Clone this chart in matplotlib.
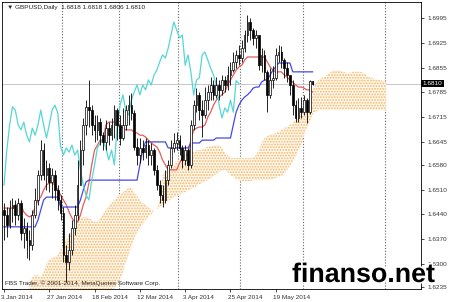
import numpy as np
import matplotlib
matplotlib.use("Agg")
import matplotlib.pyplot as plt
import matplotlib.patheffects as pe
import matplotlib.transforms as mtransforms

# %% data (GBPUSD daily, bar 0 = 3 Jan 2014)
first_open = 1.6453

close_ = [
    1.6438, 1.6410, 1.6458, 1.6467, 1.6438, 1.6472, 1.6388, 1.6402, 1.6368, 1.6354,
    1.6438, 1.6481, 1.6551, 1.6622, 1.6551, 1.6571, 1.6532, 1.6551, 1.6509, 1.6481,
    1.6444, 1.6325, 1.6306, 1.6340, 1.6402, 1.6438, 1.6523, 1.6622, 1.6693, 1.6744,
    1.6735, 1.6693, 1.6679, 1.6701, 1.6664, 1.6645, 1.6684, 1.6664, 1.6693, 1.6735,
    1.6693, 1.6656, 1.6693, 1.6735, 1.6749, 1.6727, 1.6631, 1.6608, 1.6628, 1.6616,
    1.6636, 1.6608, 1.6622, 1.6566, 1.6523, 1.6495, 1.6481, 1.6537, 1.6580, 1.6628,
    1.6642, 1.6650, 1.6628, 1.6594, 1.6622, 1.6580, 1.6693, 1.6749, 1.6778, 1.6735,
    1.6721, 1.6763, 1.6786, 1.6806, 1.6778, 1.6806, 1.6792, 1.6820, 1.6806, 1.6834,
    1.6848, 1.6871, 1.6891, 1.6882, 1.6910, 1.6947, 1.6984, 1.6961, 1.6939, 1.6947,
    1.6862, 1.6891, 1.6843, 1.6778, 1.6820, 1.6826, 1.6891, 1.6899, 1.6876, 1.6854,
    1.6834, 1.6806, 1.6749, 1.6713, 1.6741, 1.6729, 1.6763, 1.6729, 1.6818, 1.6810,
]
high_ = [
    1.6472, 1.6461, 1.6481, 1.6486, 1.6481, 1.6486, 1.6481, 1.6430, 1.6419, 1.6396,
    1.6453, 1.6515, 1.6566, 1.6650, 1.6642, 1.6594, 1.6585, 1.6571, 1.6566, 1.6523,
    1.6495, 1.6461, 1.6354, 1.6388, 1.6424, 1.6467, 1.6594, 1.6650, 1.6713, 1.6763,
    1.6820, 1.6749, 1.6721, 1.6721, 1.6713, 1.6673, 1.6707, 1.6701, 1.6713, 1.6749,
    1.6741, 1.6721, 1.6741, 1.6749, 1.6778, 1.6783, 1.6735, 1.6656, 1.6656, 1.6650,
    1.6656, 1.6650, 1.6642, 1.6628, 1.6580, 1.6537, 1.6523, 1.6566, 1.6594, 1.6650,
    1.6670, 1.6673, 1.6664, 1.6636, 1.6636, 1.6628, 1.6707, 1.6763, 1.6797, 1.6786,
    1.6763, 1.6800, 1.6806, 1.6828, 1.6820, 1.6828, 1.6820, 1.6834, 1.6831, 1.6859,
    1.6871, 1.6899, 1.6905, 1.6919, 1.6933, 1.6961, 1.7004, 1.6995, 1.6967, 1.6961,
    1.6947, 1.6910, 1.6905, 1.6848, 1.6854, 1.6859, 1.6910, 1.6919, 1.6916, 1.6882,
    1.6871, 1.6834, 1.6820, 1.6763, 1.6769, 1.6772, 1.6778, 1.6769, 1.6820, 1.6818,
]
low_ = [
    1.6368, 1.6376, 1.6402, 1.6419, 1.6410, 1.6424, 1.6368, 1.6345, 1.6317, 1.6311,
    1.6340, 1.6430, 1.6467, 1.6537, 1.6537, 1.6509, 1.6503, 1.6486, 1.6481, 1.6453,
    1.6424, 1.6306, 1.6249, 1.6283, 1.6325, 1.6382, 1.6424, 1.6523, 1.6580, 1.6664,
    1.6687, 1.6664, 1.6645, 1.6650, 1.6636, 1.6622, 1.6622, 1.6636, 1.6650, 1.6656,
    1.6650, 1.6636, 1.6650, 1.6679, 1.6693, 1.6707, 1.6622, 1.6580, 1.6585, 1.6594,
    1.6599, 1.6580, 1.6580, 1.6551, 1.6509, 1.6472, 1.6461, 1.6472, 1.6523, 1.6571,
    1.6616, 1.6622, 1.6608, 1.6571, 1.6580, 1.6566, 1.6571, 1.6679, 1.6729, 1.6707,
    1.6659, 1.6713, 1.6735, 1.6763, 1.6763, 1.6769, 1.6763, 1.6778, 1.6786, 1.6792,
    1.6806, 1.6843, 1.6854, 1.6862, 1.6871, 1.6899, 1.6927, 1.6933, 1.6919, 1.6910,
    1.6848, 1.6843, 1.6820, 1.6729, 1.6769, 1.6797, 1.6820, 1.6871, 1.6854, 1.6826,
    1.6814, 1.6778, 1.6721, 1.6701, 1.6701, 1.6713, 1.6721, 1.6698, 1.6724, 1.6806,
]

# Ichimoku lines as drawn on the chart
tenkan = [
    1.6458, 1.6458, 1.6458, 1.6458, 1.6467, 1.6467, 1.6467, 1.6447, 1.6438, 1.6433,
    1.6438, 1.6461, 1.6481, 1.6489, 1.6509, 1.6523, 1.6529, 1.6529, 1.6523, 1.6509,
    1.6495, 1.6481, 1.6467, 1.6447, 1.6430, 1.6419, 1.6419, 1.6438, 1.6467, 1.6489,
    1.6529, 1.6580, 1.6622, 1.6636, 1.6650, 1.6650, 1.6693, 1.6701, 1.6701, 1.6701,
    1.6693, 1.6687, 1.6684, 1.6679, 1.6679, 1.6679, 1.6673, 1.6670, 1.6664, 1.6664,
    1.6659, 1.6650, 1.6642, 1.6636, 1.6631, 1.6616, 1.6594, 1.6580, 1.6566, 1.6566,
    1.6566, 1.6566, 1.6585, 1.6599, 1.6608, 1.6608, 1.6650, 1.6679, 1.6684, 1.6687,
    1.6687, 1.6693, 1.6715, 1.6729, 1.6749, 1.6763, 1.6772, 1.6778, 1.6786, 1.6806,
    1.6820, 1.6834, 1.6848, 1.6857, 1.6862, 1.6876, 1.6885, 1.6885, 1.6885, 1.6885,
    1.6885, 1.6885, 1.6885, 1.6871, 1.6857, 1.6848, 1.6843, 1.6843, 1.6843, 1.6834,
    1.6828, 1.6820, 1.6814, 1.6806, 1.6800, 1.6800, 1.6797, 1.6792, 1.6792, 1.6786,
]
kijun = [
    1.6405, 1.6405, 1.6405, 1.6405, 1.6405, 1.6405, 1.6405, 1.6405, 1.6405, 1.6405,
    1.6405, 1.6405, 1.6424, 1.6453, 1.6481, 1.6489, 1.6489, 1.6489, 1.6489, 1.6489,
    1.6461, 1.6461, 1.6461, 1.6461, 1.6461, 1.6461, 1.6461, 1.6481, 1.6509, 1.6532,
    1.6537, 1.6537, 1.6537, 1.6537, 1.6537, 1.6537, 1.6537, 1.6537, 1.6537, 1.6537,
    1.6537, 1.6537, 1.6537, 1.6537, 1.6537, 1.6537, 1.6537, 1.6537, 1.6580, 1.6622,
    1.6645, 1.6645, 1.6645, 1.6645, 1.6645, 1.6645, 1.6645, 1.6645, 1.6628, 1.6628,
    1.6628, 1.6628, 1.6628, 1.6628, 1.6628, 1.6628, 1.6642, 1.6642, 1.6642, 1.6642,
    1.6650, 1.6650, 1.6650, 1.6650, 1.6650, 1.6656, 1.6656, 1.6656, 1.6656, 1.6656,
    1.6656, 1.6693, 1.6729, 1.6749, 1.6763, 1.6772, 1.6778, 1.6786, 1.6797, 1.6800,
    1.6800, 1.6814, 1.6820, 1.6820, 1.6834, 1.6848, 1.6857, 1.6868, 1.6868, 1.6868,
    1.6868, 1.6868, 1.6843, 1.6843, 1.6843, 1.6843, 1.6843, 1.6843, 1.6843, 1.6843,
]
# cloud edges (26 bars into the future)
span_top = [
    1.6198, 1.6198, 1.6198, 1.6198, 1.6198, 1.6198, 1.6198, 1.6198, 1.6198, 1.6241,
    1.6263, 1.6269, 1.6269, 1.6263, 1.6277, 1.6300, 1.6311, 1.6317, 1.6320, 1.6325,
    1.6340, 1.6354, 1.6368, 1.6382, 1.6396, 1.6410, 1.6424, 1.6430, 1.6433, 1.6433,
    1.6430, 1.6424, 1.6419, 1.6419, 1.6430, 1.6441, 1.6453, 1.6464, 1.6472, 1.6481,
    1.6489, 1.6495, 1.6503, 1.6509, 1.6515, 1.6515, 1.6503, 1.6492, 1.6481, 1.6472,
    1.6467, 1.6461, 1.6453, 1.6447, 1.6453, 1.6481, 1.6551, 1.6560, 1.6566, 1.6571,
    1.6580, 1.6588, 1.6594, 1.6602, 1.6608, 1.6614, 1.6614, 1.6616, 1.6622, 1.6622,
    1.6622, 1.6628, 1.6631, 1.6633, 1.6633, 1.6636, 1.6636, 1.6628, 1.6616, 1.6608,
    1.6599, 1.6599, 1.6599, 1.6599, 1.6599, 1.6599, 1.6599, 1.6599, 1.6599, 1.6608,
    1.6622, 1.6642, 1.6656, 1.6662, 1.6664, 1.6667, 1.6670, 1.6673, 1.6679, 1.6684,
    1.6687, 1.6693, 1.6698, 1.6707, 1.6715, 1.6721, 1.6735, 1.6749, 1.6772, 1.6792,
    1.6806, 1.6820, 1.6826, 1.6828, 1.6834, 1.6840, 1.6845, 1.6848, 1.6848, 1.6845,
    1.6843, 1.6840, 1.6840, 1.6843, 1.6843, 1.6843, 1.6843, 1.6840, 1.6834, 1.6828,
    1.6826, 1.6823, 1.6820, 1.6820, 1.6817, 1.6814,
]
span_bottom = [
    1.6198, 1.6198, 1.6198, 1.6198, 1.6198, 1.6198, 1.6198, 1.6198, 1.6198, 1.6198,
    1.6198, 1.6198, 1.6198, 1.6198, 1.6198, 1.6198, 1.6198, 1.6198, 1.6198, 1.6198,
    1.6198, 1.6198, 1.6198, 1.6198, 1.6198, 1.6198, 1.6198, 1.6198, 1.6198, 1.6198,
    1.6198, 1.6198, 1.6198, 1.6198, 1.6198, 1.6198, 1.6198, 1.6198, 1.6221, 1.6232,
    1.6243, 1.6255, 1.6277, 1.6306, 1.6325, 1.6348, 1.6373, 1.6390, 1.6402, 1.6413,
    1.6424, 1.6433, 1.6441, 1.6447, 1.6453, 1.6461, 1.6467, 1.6472, 1.6478, 1.6484,
    1.6489, 1.6492, 1.6495, 1.6501, 1.6503, 1.6509, 1.6512, 1.6515, 1.6520, 1.6526,
    1.6529, 1.6534, 1.6537, 1.6543, 1.6549, 1.6554, 1.6560, 1.6563, 1.6566, 1.6560,
    1.6551, 1.6546, 1.6540, 1.6537, 1.6534, 1.6534, 1.6534, 1.6534, 1.6537, 1.6537,
    1.6537, 1.6537, 1.6537, 1.6537, 1.6537, 1.6540, 1.6543, 1.6546, 1.6549, 1.6554,
    1.6566, 1.6577, 1.6588, 1.6602, 1.6622, 1.6636, 1.6664, 1.6684, 1.6701, 1.6724,
    1.6729, 1.6735, 1.6735, 1.6735, 1.6735, 1.6735, 1.6735, 1.6735, 1.6735, 1.6735,
    1.6735, 1.6735, 1.6735, 1.6735, 1.6735, 1.6735, 1.6735, 1.6735, 1.6735, 1.6735,
    1.6735, 1.6735, 1.6735, 1.6735, 1.6735, 1.6735,
]

date_ticks = [0, 16, 32, 48, 64, 80, 96]
date_labels = ["3 Jan 2014", "27 Jan 2014", "18 Feb 2014", "12 Mar 2014",
               "3 Apr 2014", "25 Apr 2014", "19 May 2014"]
separators = [21, 41, 62, 84, 106, 135]
price_ticks = [1.6995, 1.6925, 1.6855, 1.6785, 1.6715, 1.6645,
               1.6580, 1.6510, 1.6440, 1.6370, 1.6300, 1.6235]
last_price = 1.6810
header = "\u25bc GBPUSD,Daily  1.6818 1.6818 1.6806 1.6810"
copyright_txt = "FBS Trader, \u00a9 2001-2014, MetaQuotes Software Corp."

# %% arrays
c = np.array(close_)
h = np.array(high_)
l = np.array(low_)
o = np.concatenate([[first_open], c[:-1]])
idx = np.arange(len(c))
up = c >= o

plt.rcParams["font.family"] = ["Liberation Sans", "DejaVu Sans"]
plt.rcParams["hatch.linewidth"] = 0.9

fig = plt.figure(figsize=(4.5, 3.02), dpi=100)
ax = fig.add_axes([2 / 450, 13 / 302, 419 / 450, 287 / 302])
ax.set_xlim(-0.7, 147.3)
ax.set_ylim(1.62293, 1.70404)

# cloud
cloud_idx = np.arange(len(span_top))
ax.fill_between(cloud_idx, span_top, span_bottom, facecolor="#fff8ef",
                edgecolor="#f2b868", hatch="......", linewidth=0, zorder=1)

# separators and current price line
for s in separators:
    ax.axvline(s - 0.5, color="#666666", lw=0.8, ls=(0, (1, 1.6)), zorder=0.5)
ax.axhline(last_price, color="#c8c8c8", lw=0.7, zorder=0.5)

# lines
ax.plot(idx, tenkan, color="#e45c5c", lw=0.9, zorder=2)
ax.plot(idx, kijun, color="#4848e4", lw=0.9, zorder=2)
ax.plot(idx[:-26], c[26:], color="#55d6d6", lw=0.9, zorder=2)

# candles
ax.vlines(idx, l, h, color="black", lw=0.6, zorder=3)
body_h = np.maximum(np.abs(c - o), 0.00006)
ax.bar(idx, body_h, bottom=np.minimum(o, c), width=0.6,
       color=np.where(up, "white", "black"), edgecolor="black",
       linewidth=0.5, zorder=4)

# axes styling
for sp in ax.spines.values():
    sp.set_linewidth(0.6)
ax.yaxis.tick_right()
ax.set_yticks(price_ticks)
ax.set_yticklabels([f"{v:.4f}" for v in price_ticks])
ax.set_xticks(date_ticks)
ax.set_xticklabels(date_labels)
ax.tick_params(axis="y", length=2.5, width=0.5, pad=2, labelsize=4.6,
               labelcolor="#333333")
ax.tick_params(axis="x", length=2.5, width=0.5, pad=1.5, labelsize=4.6,
               labelcolor="#333333")
shift = mtransforms.ScaledTranslation(-2.5 / 100, 0, fig.dpi_scale_trans)
for lab in ax.get_xticklabels():
    lab.set_ha("left")
    lab.set_transform(lab.get_transform() + shift)

ax.text(1.004, last_price, f"{last_price:.4f}", transform=ax.get_yaxis_transform(),
        ha="left", va="center", fontsize=4.6, color="white",
        bbox=dict(boxstyle="square,pad=0.2", fc="black", ec="none"),
        zorder=10, clip_on=False)

fig.text(7 / 450, 1 - 7 / 302, header, fontsize=4.6, color="#222222",
         ha="left", va="center")
fig.text(5 / 450, 19 / 302, copyright_txt, fontsize=4.6, color="#222222",
         ha="left", va="center")

wm = fig.text(292 / 450, 20 / 302, "finanso.net", fontsize=19.3,
              weight="bold", color="black", ha="left", va="baseline", zorder=20)
wm.set_path_effects([pe.withStroke(linewidth=2.5, foreground="white")])

fig.savefig("out.png", dpi=100)
